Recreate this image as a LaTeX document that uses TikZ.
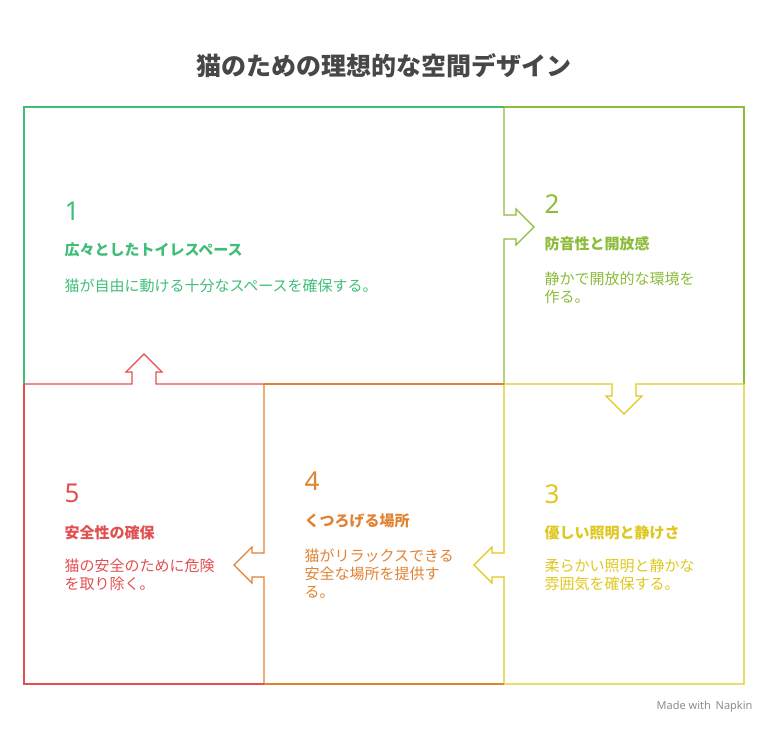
\documentclass[tikz,border=0pt]{standalone}
\usepackage{fontspec}
\setmainfont{Noto Sans CJK JP}
\newfontfamily\latinf{Noto Sans}
\begin{document}
\begin{tikzpicture}[x=1pt,y=-1pt,
  box/.style={line width=1.3pt},
  num/.style={anchor=west,font=\latinf\fontsize{26}{30}\selectfont},
  head/.style={anchor=west,font=\bfseries\fontsize{15}{18}\selectfont},
  body/.style={anchor=north west,align=left,font=\fontsize{15}{18}\selectfont}]
\definecolor{cA}{RGB}{64,190,120}
\definecolor{cB}{RGB}{140,188,58}
\definecolor{cC}{RGB}{222,200,30}
\definecolor{cD}{RGB}{225,130,50}
\definecolor{cE}{RGB}{225,80,80}
\useasboundingbox (0,0) rectangle (768,732);
\node[font=\bfseries\fontsize{25}{28}\selectfont,text=black!72] (title) at (384,66) {猫のための理想的な空間デザイン};
% box 1
\draw[box,cA] (504,107) -- (24,107) -- (24,384);
% box 2 with right arrow on left edge
\draw[box,cB] (504,107) -- (744,107) -- (744,384);
\draw[box,cB] (504,107) -- (504,215) -- (516,215) -- (516,209) -- (534,227) -- (516,245) -- (516,239) -- (504,239) -- (504,384);
% box 3 with down arrow on top edge
\draw[box,cC] (504,384) -- (612,384) -- (612,396) -- (606,396) -- (624,414) -- (642,396) -- (636,396) -- (636,384) -- (744,384) -- (744,684) -- (504,684);
\draw[box,cC] (504,384) -- (504,553) -- (492,553) -- (492,547) -- (474,565) -- (492,583) -- (492,577) -- (504,577) -- (504,684);
% box 4
\draw[box,cD] (264,384) -- (504,384);
\draw[box,cD] (264,684) -- (504,684);
\draw[box,cD] (264,384) -- (264,553) -- (252,553) -- (252,547) -- (234,565) -- (252,583) -- (252,577) -- (264,577) -- (264,684);
% box 5 with up arrow
\draw[box,cE] (24,384) -- (132,384) -- (132,372) -- (126,372) -- (144,354) -- (162,372) -- (156,372) -- (156,384) -- (264,384);
\draw[box,cE] (24,384) -- (24,684) -- (264,684);
% texts
\node[num,text=cA] (n1) at (61,211) {1};
\node[head,text=cA] (h1) at (61,250) {広々としたトイレスペース};
\node[body,text=cA] (b1) at (61,275) {猫が自由に動ける十分なスペースを確保する。};
\node[num,text=cB] (n2) at (541,204) {2};
\node[head,text=cB] (h2) at (541,244) {防音性と開放感};
\node[body,text=cB] (b2) at (541,268) {静かで開放的な環境を\\作る。};
\node[num,text=cC] (n3) at (541,494) {3};
\node[head,text=cC] (h3) at (541,533) {優しい照明と静けさ};
\node[body,text=cC] (b3) at (541,555) {柔らかい照明と静かな\\雰囲気を確保する。};
\node[num,text=cD] (n4) at (301,481) {4};
\node[head,text=cD] (h4) at (301,521) {くつろげる場所};
\node[body,text=cD] (b4) at (301,545) {猫がリラックスできる\\安全な場所を提供す\\る。};
\node[num,text=cE] (n5) at (61,493) {5};
\node[head,text=cE] (h5) at (61,533) {安全性の確保};
\node[body,text=cE] (b5) at (61,555) {猫の安全のために危険\\を取り除く。};
\node[anchor=east,font=\latinf\fontsize{11}{13}\selectfont,text=black!45] (wm) at (756,707) {Made with \,Napkin};
\end{tikzpicture}
\end{document}
